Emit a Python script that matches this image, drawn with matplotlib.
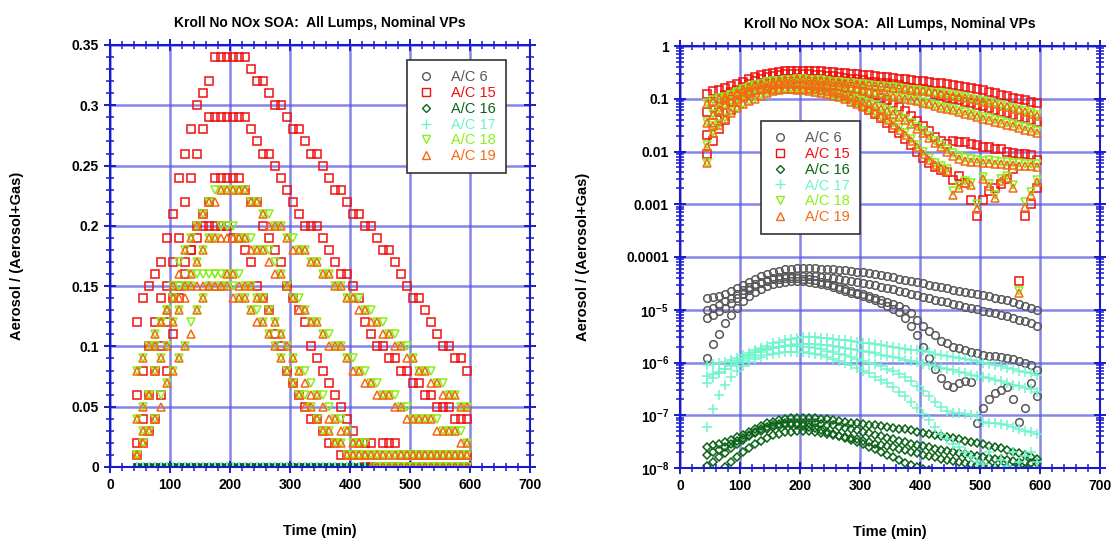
import numpy as np
import matplotlib
matplotlib.use('Agg')
import matplotlib.pyplot as plt
from matplotlib.ticker import MultipleLocator, FixedLocator, FixedFormatter, NullFormatter
from matplotlib.lines import Line2D

plt.rcParams['font.family'] = ['Liberation Sans', 'DejaVu Sans']
plt.rcParams['mathtext.fontset'] = 'custom'
plt.rcParams['mathtext.rm'] = 'Liberation Sans'
plt.rcParams['mathtext.bf'] = 'Liberation Sans:bold'

# ---------------- data (time grid, minutes) ----------------
time_min = list(range(45, 600, 10))   # 45, 55, ..., 595

# A/C 6 (units of 1e-5)
ac6_scale = 1e-5
ac6_a = [1.7,1.75,1.85,2.0,2.25,2.55,2.9,3.3,3.8,4.3,4.8,5.2,5.5,5.8,6.0,6.1,6.2,6.2,6.15,6.05,5.95,5.85,5.7,5.55,5.4,5.25,5.1,4.9,4.7,4.5,4.3,4.1,3.9,3.7,3.5,3.3,3.15,3.0,2.85,2.7,2.55,2.42,2.3,2.2,2.1,2.0,1.9,1.8,1.7,1.6,1.5,1.4,1.3,1.2,1.1,1.0]
ac6_b = [1.0,1.1,1.25,1.45,1.7,2.0,2.35,2.7,3.05,3.4,3.7,3.95,4.15,4.3,4.4,4.45,4.45,4.4,4.3,4.2,4.1,3.95,3.8,3.65,3.5,3.35,3.2,3.05,2.9,2.75,2.6,2.45,2.3,2.15,2.0,1.88,1.77,1.66,1.56,1.47,1.38,1.3,1.22,1.15,1.08,1.02,0.96,0.9,0.85,0.8,0.75,0.7,0.65,0.6,0.55,0.5]
ac6_c = [0.7,0.8,0.95,1.1,1.35,1.65,2.0,2.4,2.8,3.2,3.5,3.75,3.9,4.0,4.05,4.0,3.9,3.75,3.6,3.4,3.2,3.0,2.75,2.5,2.3,2.1,1.95,1.8,1.65,1.5,1.4,1.3,1.2,1.05,0.85,0.65,0.5,0.4,0.33,0.26,0.23,0.2,0.19,0.17,0.16,0.15,0.14,0.135,0.13,0.125,0.12,0.115,0.105,0.1,0.09,0.072]
ac6_d = [0.12,0.22,0.35,0.55,0.8,1.1,1.45,1.8,2.15,2.5,2.8,3.05,3.25,3.4,3.5,3.5,3.45,3.35,3.2,3.05,2.9,2.7,2.5,2.3,2.1,1.95,1.8,1.65,1.5,1.35,1.2,1.05,0.9,0.7,0.5,0.33,0.2,0.12,0.075,0.05,0.038,0.034,0.04,0.045,0.042,0.007,0.014,0.02,0.026,0.03,0.034,0.02,0.0075,0.014,0.04,0.023]

# A/C 15
ac15_a = [.125,.138,.148,.16,.173,.19,.21,.235,.258,.28,.298,.313,.325,.335,.34,.342,.343,.34,.336,.33,.323,.317,.31,.304,.298,.291,.284,.277,.269,.262,.255,.248,.24,.233,.226,.22,.213,.207,.201,.195,.189,.183,.177,.17,.162,.153,.144,.136,.128,.12,.112,.105,.1,.094,.088,.082]
ac15_b = [.056,.085,.105,.12,.135,.148,.168,.19,.218,.24,.258,.275,.286,.29,.292,.293,.292,.29,.286,.279,.272,.265,.258,.25,.242,.232,.222,.212,.205,.2,.195,.188,.18,.17,.162,.155,.15,.14,.125,.113,.105,.1,.094,.088,.082,.077,.072,.067,.062,.057,.053,.05,.046,.043,.04,.037]
ac15_c = [.009,.016,.027,.04,.062,.085,.11,.135,.158,.178,.196,.21,.225,.236,.241,.243,.242,.238,.232,.224,.215,.205,.193,.18,.167,.153,.14,.128,.116,.105,.094,.082,.07,.058,.047,.038,.03,.024,.019,.016,.014,.016,.015,.015,.014,.013,.012,.012,.011,.011,.01,.0095,.009,.0088,.0085,.007]
ac15_d = [.021,.035,.055,.075,.095,.115,.135,.152,.167,.18,.19,.197,.2,.202,.201,.198,.193,.186,.177,.166,.154,.14,.126,.112,.098,.085,.073,.062,.052,.043,.035,.028,.022,.017,.013,.01,.0075,.006,.005,.0045,.004,.0029,.0034,.0025,.0012,.0006,.0012,.0018,.002,.0024,.003,.0047,3.5e-5,.0006,.001,.002]

# A/C 16 (units of 1e-8)
ac16_scale = 1e-8
ac16_a = [2.5,2.7,2.9,3.1,3.4,3.8,4.3,4.9,5.6,6.3,7.0,7.6,8.1,8.5,8.8,8.9,8.9,8.9,8.8,8.6,8.4,8.1,7.8,7.5,7.2,7.0,6.8,6.6,6.4,6.2,6.0,5.8,5.6,5.4,5.15,4.9,4.7,4.5,4.3,4.1,3.9,3.7,3.5,3.3,3.15,3.0,2.8,2.65,2.5,2.35,2.2,2.05,1.9,1.75,1.62,1.5]
ac16_b = [1.8,2.0,2.2,2.5,2.8,3.2,3.7,4.2,4.8,5.4,5.9,6.4,6.8,7.0,7.2,7.2,7.2,7.1,7.0,6.8,6.6,6.4,6.1,5.8,5.5,5.2,4.9,4.6,4.3,4.0,3.75,3.5,3.3,3.1,2.9,2.75,2.6,2.45,2.32,2.2,2.1,2.0,1.9,1.82,1.75,1.68,1.62,1.56,1.5,1.45,1.4,1.36,1.32,1.28,1.25,1.22]
ac16_c = [1.1,1.3,1.6,1.95,2.4,2.9,3.4,4.0,4.6,5.1,5.6,6.0,6.3,6.5,6.55,6.5,6.3,6.0,5.65,5.3,4.9,4.5,4.1,3.75,3.4,3.1,2.8,2.5,2.25,2.0,1.8,1.6,1.42,1.27,1.15,1.05,0.97,0.9,0.8,0.7,0.62,0.55,0.5,0.45,0.4,0.36,0.33,0.3,0.27,0.25,0.23,0.21,0.19,0.18,0.17,0.16]
ac16_d = [0.5,0.65,0.85,1.05,1.3,1.6,2.0,2.4,2.85,3.3,3.75,4.15,4.5,4.75,4.9,5.0,5.0,4.95,4.85,4.7,4.5,4.3,4.1,3.9,3.7,3.5,3.3,3.1,2.9,2.75,2.6,2.45,2.3,2.15,2.0,1.9,1.8,1.7,1.6,1.5,1.42,1.35,1.28,1.22,1.17,1.13,1.1,1.07,1.05,1.03,1.01,1.0,0.98,0.96,0.9,0.85]

# A/C 17 (units of 1e-7)
ac17_scale = 1e-7
ac17_a = [9.0,9.3,9.7,10.3,11.2,12.3,13.6,15.2,17.0,19.0,21.0,23.0,25.0,26.8,28.2,29.2,29.8,30.0,29.8,29.3,28.6,27.8,27.0,26.2,25.4,24.6,23.8,23.0,22.2,21.4,20.6,19.8,19.0,18.3,17.6,16.9,16.2,15.5,14.8,14.1,13.5,12.9,12.3,11.7,11.1,10.5,10.0,9.5,9.0,8.5,8.0,7.5,7.0,6.6,6.2,5.8]
ac17_b = [5.5,6.0,6.6,7.4,8.4,9.6,11.0,12.5,14.0,15.5,17.0,18.5,19.8,20.9,21.7,22.3,22.6,22.6,22.3,21.8,21.2,20.5,19.7,18.9,18.1,17.3,16.5,15.7,14.9,14.1,13.4,12.7,12.0,11.3,10.7,10.1,9.5,9.0,8.5,8.0,7.5,7.1,6.7,6.3,5.9,5.6,5.3,5.0,4.7,4.4,4.1,3.8,3.6,3.35,3.1,2.8]
ac17_c = [4.0,5.0,6.2,7.5,9.0,10.6,12.3,14.0,15.6,17.0,18.2,19.2,19.9,20.3,20.5,20.4,20.0,19.4,18.6,17.7,16.7,15.7,14.7,13.7,12.7,11.8,10.9,10.0,9.2,8.4,7.6,6.8,6.0,5.2,4.4,3.6,2.9,2.3,1.8,1.45,1.2,1.1,1.1,1.05,1.0,0.95,0.75,0.72,0.7,0.68,0.65,0.6,0.55,0.5,0.48,0.45]
ac17_d = [0.6,1.3,2.4,3.8,5.4,7.0,8.6,10.1,11.5,12.8,13.9,14.8,15.4,15.8,16.0,16.0,15.7,15.2,14.5,13.7,12.8,11.8,10.8,9.8,8.8,7.9,7.0,6.2,5.4,4.7,4.0,3.4,2.8,2.3,1.8,1.4,1.05,0.8,0.6,0.45,0.35,0.28,0.25,0.2,0.16,0.13,0.12,0.2,0.1,0.14,0.11,0.2,0.13,0.17,0.2,0.13]

# A/C 18
ac18_a = [.082,.094,.102,.109,.118,.132,.152,.167,.182,.194,.204,.213,.22,.226,.23,.232,.233,.231,.227,.222,.217,.212,.207,.202,.197,.192,.187,.183,.178,.174,.169,.164,.159,.154,.149,.144,.14,.135,.13,.126,.122,.116,.112,.107,.101,.095,.09,.085,.08,.075,.071,.066,.062,.058,.054,.05]
ac18_b = [.037,.052,.064,.077,.09,.103,.118,.133,.148,.161,.173,.183,.19,.193,.195,.196,.196,.194,.191,.188,.185,.181,.175,.168,.161,.153,.144,.136,.13,.124,.118,.113,.108,.103,.098,.092,.086,.081,.076,.071,.067,.063,.059,.055,.052,.048,.045,.043,.04,.038,.035,.033,.031,.029,.027,.025]
ac18_c = [.013,.023,.033,.044,.056,.068,.081,.092,.103,.116,.13,.143,.151,.155,.157,.158,.158,.156,.153,.15,.145,.139,.131,.121,.109,.099,.091,.083,.075,.068,.061,.055,.048,.041,.035,.029,.024,.02,.016,.0135,.011,.0092,.0081,.0074,.0071,.0069,.0067,.0068,.0065,.0064,.0062,.0061,.006,.0059,.0058,.0057]
ac18_d = [.006,.031,.064,.098,.118,.131,.14,.146,.15,.153,.155,.156,.156,.155,.153,.151,.148,.144,.139,.133,.126,.118,.109,.1,.091,.082,.073,.064,.056,.048,.041,.034,.028,.022,.017,.013,.0098,.0075,.006,.0052,.0046,.0018,.0022,.0027,.0025,.001,.0033,.0024,.0015,.003,.0035,.0023,2.3e-5,.0011,.0017,.0029]

# A/C 19
ac19_a = [.08,.092,.1,.107,.116,.13,.15,.165,.18,.192,.202,.211,.219,.225,.229,.232,.233,.231,.226,.22,.215,.21,.205,.2,.195,.19,.185,.181,.176,.172,.167,.162,.157,.152,.147,.142,.138,.133,.128,.124,.12,.114,.11,.105,.099,.093,.088,.083,.078,.073,.069,.064,.06,.056,.052,.048]
ac19_b = [.035,.05,.062,.075,.088,.1,.115,.13,.145,.158,.17,.18,.187,.19,.192,.193,.193,.191,.188,.185,.182,.178,.172,.165,.158,.15,.141,.133,.127,.121,.115,.11,.105,.1,.095,.089,.083,.078,.073,.068,.064,.06,.056,.052,.049,.045,.042,.04,.037,.035,.032,.03,.028,.026,.024,.022]
ac19_c = [.012,.022,.032,.042,.054,.066,.079,.09,.1,.113,.127,.14,.148,.152,.154,.155,.155,.153,.15,.147,.142,.136,.128,.118,.106,.096,.088,.08,.072,.065,.058,.052,.045,.039,.033,.027,.022,.018,.0145,.012,.0098,.0082,.0072,.0066,.0063,.0062,.006,.0061,.0058,.0057,.0056,.0055,.0054,.0053,.0052,.0051]
ac19_d = [.006,.03,.062,.095,.115,.128,.137,.143,.147,.15,.152,.153,.153,.152,.15,.148,.145,.141,.136,.13,.123,.115,.106,.097,.088,.079,.07,.062,.054,.046,.039,.032,.026,.021,.016,.012,.009,.0068,.0055,.0048,.0043,.0015,.002,.0025,.0023,.0008,.003,.0022,.0013,.0028,.0032,.002,2.1e-5,.0009,.0015,.0026]

labels = ['A/C 6', 'A/C 15', 'A/C 16', 'A/C 17', 'A/C 18', 'A/C 19']
colors = ['#585858', '#f01010', '#0b6418', '#6ef5cc', '#8af01a', '#f46a14']
markers = ['o', 's', 'D', '+', 'v', '^']
msizes = [5.5, 5.5, 3.8, 6.5, 5.5, 5.5]
curves = [
    ([ac6_a, ac6_b, ac6_c, ac6_d], ac6_scale),
    ([ac15_a, ac15_b, ac15_c, ac15_d], 1.0),
    ([ac16_a, ac16_b, ac16_c, ac16_d], ac16_scale),
    ([ac17_a, ac17_b, ac17_c, ac17_d], ac17_scale),
    ([ac18_a, ac18_b, ac18_c, ac18_d], 1.0),
    ([ac19_a, ac19_b, ac19_c, ac19_d], 1.0),
]

t = np.array(time_min, dtype=float)
for cl, _ in curves:
    for c in cl:
        assert len(c) == len(t), len(c)

title = 'Kroll No NOx SOA:  All Lumps, Nominal VPs'
blue = '#1a1acc'
gridc = '#5c5ce0'

fig = plt.figure(figsize=(11.14, 5.41), dpi=100)
ax1 = fig.add_axes([110/1114, 1-467/541, 420/1114, 422/541])
ax2 = fig.add_axes([680/1114, 1-468/541, 420/1114, 422/541])

for k, (cl, sc) in enumerate(curves):
    for c in cl:
        v = np.array(c) * sc
        kw = dict(linestyle='none', marker=markers[k], ms=msizes[k],
                  mfc='none', mec=colors[k], mew=1.1)
        # left panel shows the values as printed (2 decimals)
        ax1.plot(t, np.round(v, 2), **kw)
        ax2.plot(t, v, **kw)

def style(ax):
    ax.set_axisbelow(True)
    ax.grid(True, which='major', color=gridc, lw=1.8, alpha=0.75)
    for s in ax.spines.values():
        s.set_color(blue)
        s.set_linewidth(1.5)
    ax.tick_params(which='both', direction='inout', top=True, right=True,
                   color=blue, labelcolor='black', labelsize=10)
    ax.tick_params(which='major', length=9, width=1.4)
    ax.tick_params(which='minor', length=6, width=1.1)
    for lab in ax.get_xticklabels() + ax.get_yticklabels():
        lab.set_fontweight('bold')
    ax.set_xlim(0, 700)
    ax.xaxis.set_major_locator(MultipleLocator(100))
    ax.xaxis.set_minor_locator(MultipleLocator(20))
    ax.set_title(title, fontsize=10, fontweight='bold', pad=13)
    ax.set_xlabel('Time (min)', fontsize=10.5, fontweight='bold')
    ax.set_ylabel('Aerosol / (Aerosol+Gas)', fontsize=10.5, fontweight='bold')
    ax.xaxis.set_label_coords(0.5, -0.135)

# left panel
ax1.set_ylim(0, 0.35)
ax1.yaxis.set_major_locator(FixedLocator([0, 0.05, 0.1, 0.15, 0.2, 0.25, 0.3, 0.35]))
ax1.yaxis.set_major_formatter(FixedFormatter(['0', '0.05', '0.1', '0.15', '0.2', '0.25', '0.3', '0.35']))
ax1.yaxis.set_minor_locator(MultipleLocator(0.01))
style(ax1)
ax1.yaxis.set_label_coords(-0.205, 0.5)

# right panel
ax2.set_yscale('log')
ax2.set_ylim(1e-8, 1)
dec = [1e-8, 1e-7, 1e-6, 1e-5, 1e-4, 1e-3, 1e-2, 1e-1, 1]
declab = [r'$\mathbf{10^{-8}}$', r'$\mathbf{10^{-7}}$', r'$\mathbf{10^{-6}}$', r'$\mathbf{10^{-5}}$',
          '0.0001', '0.001', '0.01', '0.1', '1']
ax2.yaxis.set_major_locator(FixedLocator(dec))
ax2.yaxis.set_major_formatter(FixedFormatter(declab))
minors = [m * d for d in dec[:-1] for m in range(2, 10)]
ax2.yaxis.set_minor_locator(FixedLocator(minors))
ax2.yaxis.set_minor_formatter(NullFormatter())
style(ax2)
ax2.yaxis.set_label_coords(-0.215, 0.5)

def legend(ax, anchor):
    handles = [Line2D([], [], linestyle='none', marker=markers[k], ms=msizes[k] if markers[k] != 'D' else 4.2,
                      mfc='none', mec=colors[k], mew=1.0) for k in range(6)]
    leg = ax.legend(handles, labels, loc='upper left', bbox_to_anchor=anchor,
                    frameon=True, fancybox=False, framealpha=1, edgecolor='#333333',
                    fontsize=10.5, handlelength=1.2, handletextpad=1.1,
                    labelspacing=0.12, borderpad=0.7, borderaxespad=0)
    leg.get_frame().set_linewidth(1.2)
    for txt, c in zip(leg.get_texts(), colors):
        txt.set_color(c)

legend(ax1, (0.707, 0.964))
legend(ax2, (0.193, 0.822))

fig.savefig('out.png', dpi=100)
